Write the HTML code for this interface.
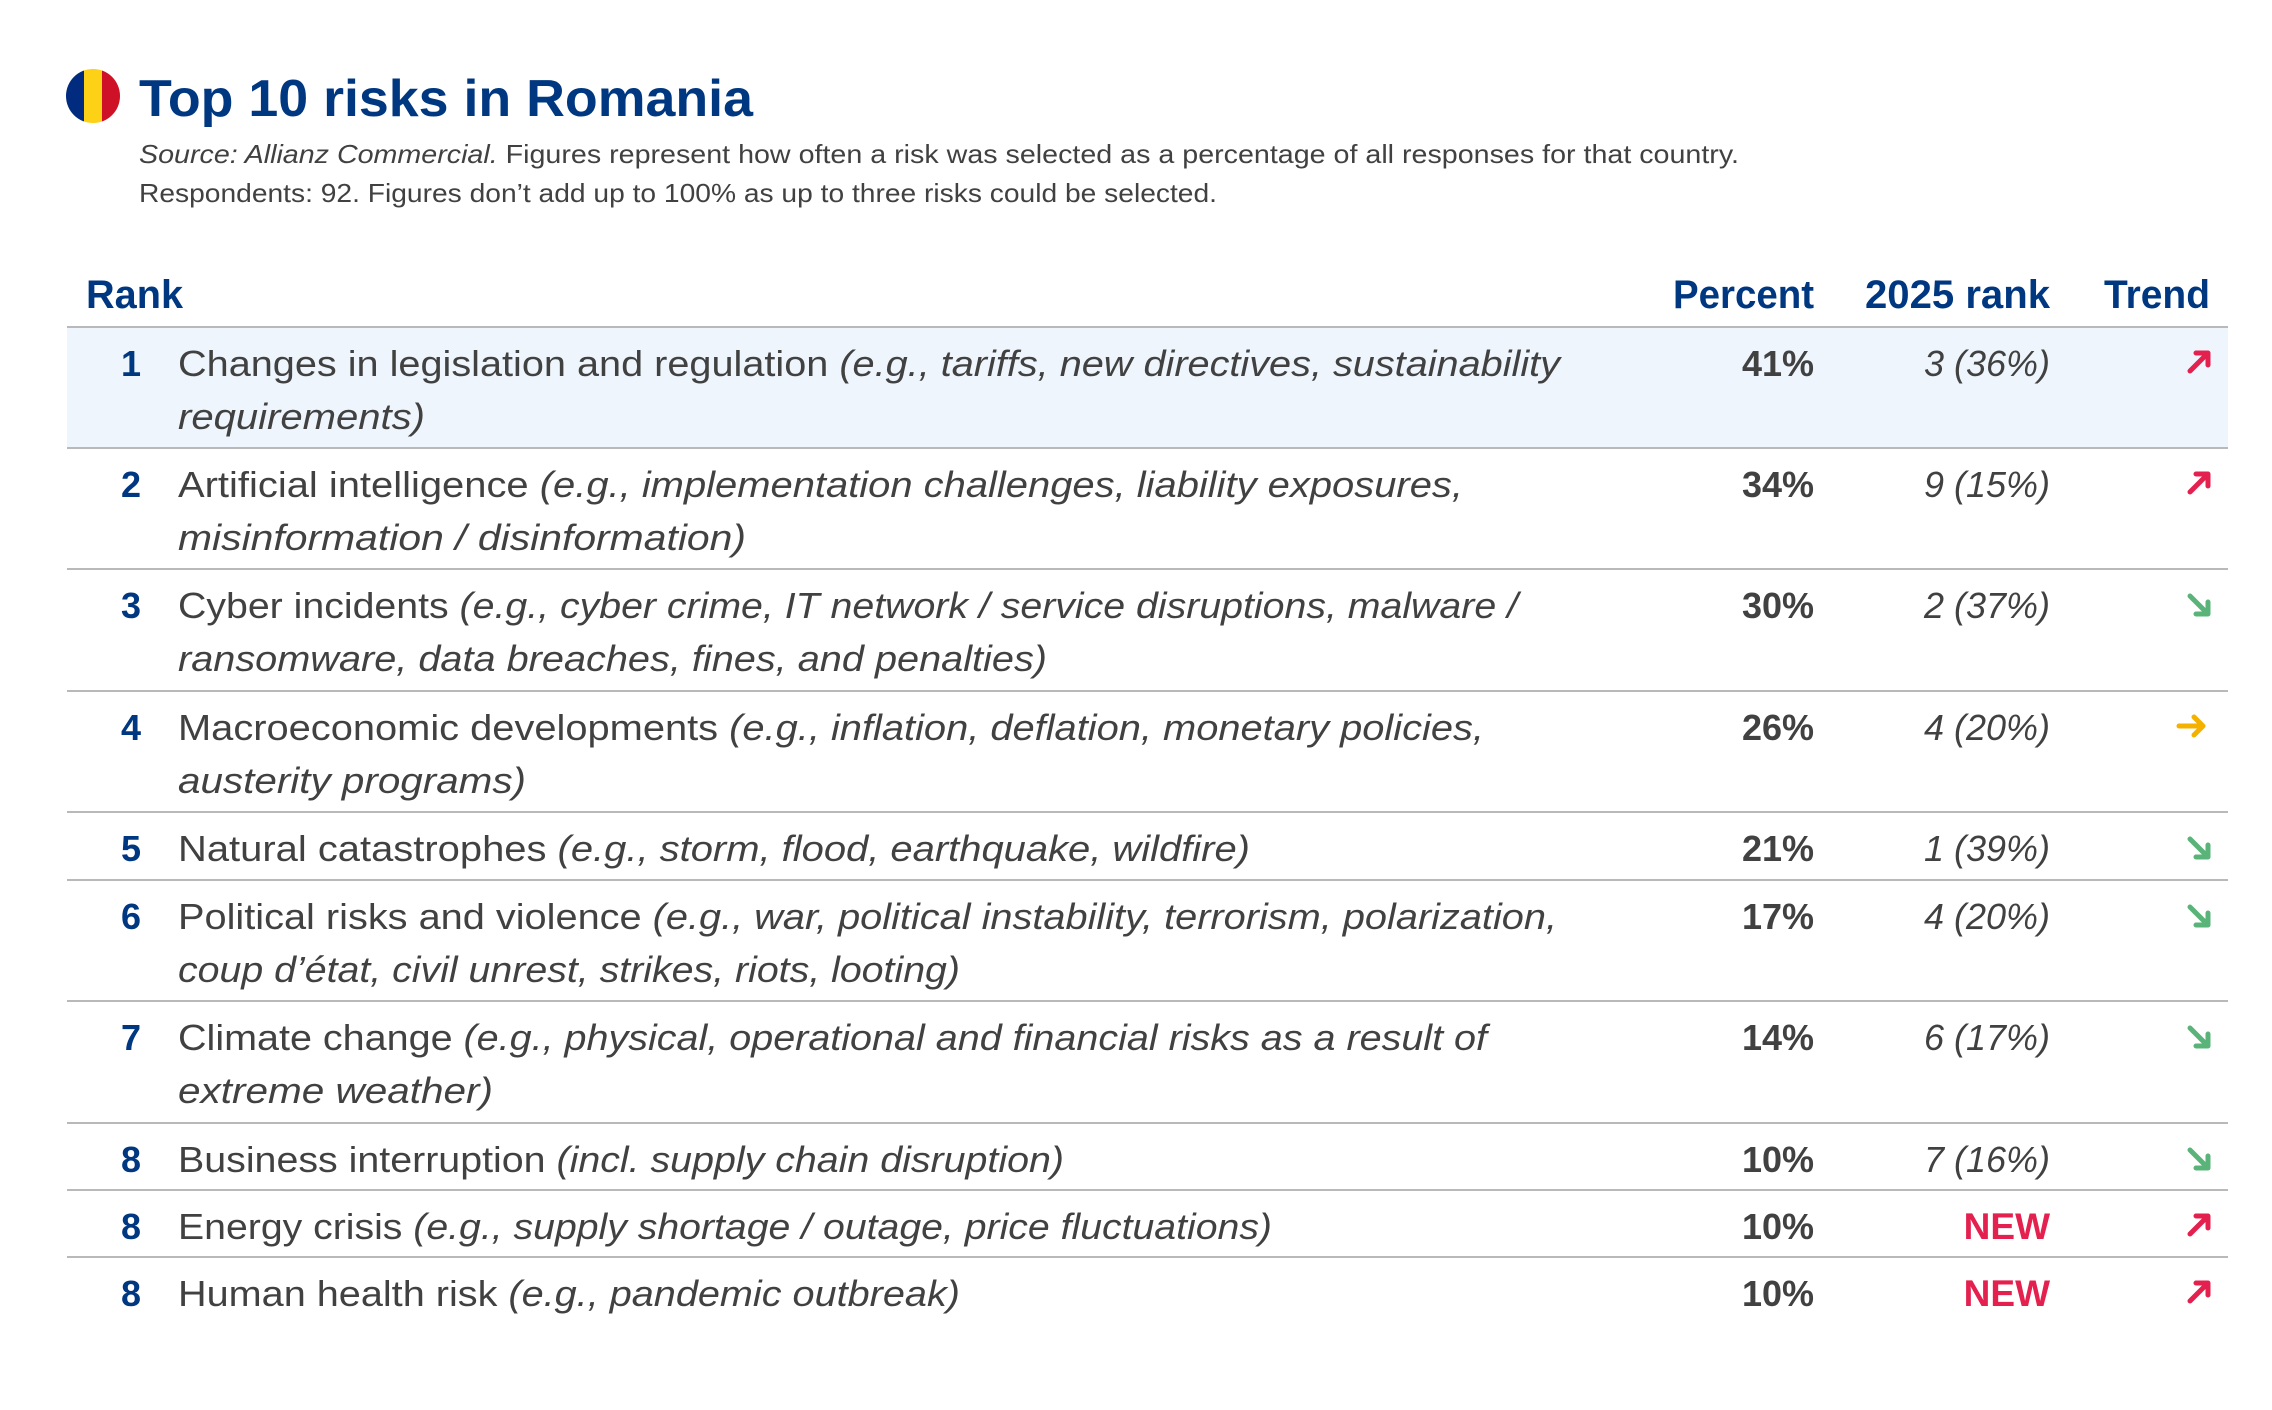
<!DOCTYPE html>
<html><head><meta charset="utf-8"><style>
html,body{margin:0;padding:0;background:#fff;}
svg{display:block;}
text{font-family:"Liberation Sans",sans-serif;}
.t{font-size:36px;fill:#414141;}
.i{font-style:italic;}
.n{font-size:36px;font-weight:bold;fill:#003781;}
.p{font-size:36px;font-weight:bold;fill:#414141;}
.r{font-size:36px;font-style:italic;fill:#414141;}
.h{font-size:40px;font-weight:bold;fill:#003781;}
.new{font-size:37px;font-weight:bold;fill:#e4204f;}
</style></head><body>
<svg width="2272" height="1410" viewBox="0 0 2272 1410" xmlns="http://www.w3.org/2000/svg">
<defs><clipPath id="fc"><circle cx="93" cy="96" r="27"/></clipPath></defs>
<g clip-path="url(#fc)">
<rect x="66" y="68" width="18" height="56" fill="#002b7f"/>
<rect x="84" y="68" width="18" height="56" fill="#fcd116"/>
<rect x="102" y="68" width="19" height="56" fill="#ce1126"/>
</g>
<text x="139" y="116" font-size="52" font-weight="bold" fill="#003781" textLength="614" lengthAdjust="spacingAndGlyphs">Top 10 risks in Romania</text>
<text x="139" y="163" font-size="26" fill="#414141" textLength="1600" lengthAdjust="spacingAndGlyphs"><tspan font-style="italic">Source: Allianz Commercial.</tspan> Figures represent how often a risk was selected as a percentage of all responses for that country.</text>
<text x="139" y="202" font-size="26" fill="#414141" textLength="1078" lengthAdjust="spacingAndGlyphs">Respondents: 92. Figures don’t add up to 100% as up to three risks could be selected.</text>

<text class="h" x="86" y="308" textLength="97" lengthAdjust="spacingAndGlyphs">Rank</text>
<text class="h" x="1673" y="308" textLength="141" lengthAdjust="spacingAndGlyphs">Percent</text>
<text class="h" x="1865" y="308" textLength="185" lengthAdjust="spacingAndGlyphs">2025 rank</text>
<text class="h" x="2104" y="308" textLength="106" lengthAdjust="spacingAndGlyphs">Trend</text>

<rect x="67" y="327" width="2161" height="121" fill="#eef5fc"/>
<g stroke="#b9b9b9" stroke-width="2">
<line x1="67" x2="2228" y1="327" y2="327"/>
<line x1="67" x2="2228" y1="448" y2="448"/>
<line x1="67" x2="2228" y1="569" y2="569"/>
<line x1="67" x2="2228" y1="691" y2="691"/>
<line x1="67" x2="2228" y1="812" y2="812"/>
<line x1="67" x2="2228" y1="880" y2="880"/>
<line x1="67" x2="2228" y1="1001" y2="1001"/>
<line x1="67" x2="2228" y1="1123" y2="1123"/>
<line x1="67" x2="2228" y1="1190" y2="1190"/>
<line x1="67" x2="2228" y1="1257" y2="1257"/>
</g>

<g>
<text class="n" x="141" y="376" text-anchor="end">1</text>
<text class="t" x="178" y="376" textLength="1382" lengthAdjust="spacingAndGlyphs">Changes in legislation and regulation <tspan class="i">(e.g., tariffs, new directives, sustainability</tspan></text>
<text class="t i" x="178" y="429" textLength="247" lengthAdjust="spacingAndGlyphs">requirements)</text>
<text class="p" x="1814" y="376" text-anchor="end">41%</text>
<text class="r" x="2050" y="376" text-anchor="end">3 (36%)</text>

<text class="n" x="141" y="497" text-anchor="end">2</text>
<text class="t" x="178" y="497" textLength="1285" lengthAdjust="spacingAndGlyphs">Artificial intelligence <tspan class="i">(e.g., implementation challenges, liability exposures,</tspan></text>
<text class="t i" x="178" y="550" textLength="568" lengthAdjust="spacingAndGlyphs">misinformation / disinformation)</text>
<text class="p" x="1814" y="497" text-anchor="end">34%</text>
<text class="r" x="2050" y="497" text-anchor="end">9 (15%)</text>

<text class="n" x="141" y="618" text-anchor="end">3</text>
<text class="t" x="178" y="618" textLength="1340" lengthAdjust="spacingAndGlyphs">Cyber incidents <tspan class="i">(e.g., cyber crime, IT network / service disruptions, malware /</tspan></text>
<text class="t i" x="178" y="671" textLength="869" lengthAdjust="spacingAndGlyphs">ransomware, data breaches, fines, and penalties)</text>
<text class="p" x="1814" y="618" text-anchor="end">30%</text>
<text class="r" x="2050" y="618" text-anchor="end">2 (37%)</text>

<text class="n" x="141" y="740" text-anchor="end">4</text>
<text class="t" x="178" y="740" textLength="1306" lengthAdjust="spacingAndGlyphs">Macroeconomic developments <tspan class="i">(e.g., inflation, deflation, monetary policies,</tspan></text>
<text class="t i" x="178" y="793" textLength="348" lengthAdjust="spacingAndGlyphs">austerity programs)</text>
<text class="p" x="1814" y="740" text-anchor="end">26%</text>
<text class="r" x="2050" y="740" text-anchor="end">4 (20%)</text>

<text class="n" x="141" y="861" text-anchor="end">5</text>
<text class="t" x="178" y="861" textLength="1072" lengthAdjust="spacingAndGlyphs">Natural catastrophes <tspan class="i">(e.g., storm, flood, earthquake, wildfire)</tspan></text>
<text class="p" x="1814" y="861" text-anchor="end">21%</text>
<text class="r" x="2050" y="861" text-anchor="end">1 (39%)</text>

<text class="n" x="141" y="929" text-anchor="end">6</text>
<text class="t" x="178" y="929" textLength="1379" lengthAdjust="spacingAndGlyphs">Political risks and violence <tspan class="i">(e.g., war, political instability, terrorism, polarization,</tspan></text>
<text class="t i" x="178" y="982" textLength="782" lengthAdjust="spacingAndGlyphs">coup d’état, civil unrest, strikes, riots, looting)</text>
<text class="p" x="1814" y="929" text-anchor="end">17%</text>
<text class="r" x="2050" y="929" text-anchor="end">4 (20%)</text>

<text class="n" x="141" y="1050" text-anchor="end">7</text>
<text class="t" x="178" y="1050" textLength="1309" lengthAdjust="spacingAndGlyphs">Climate change <tspan class="i">(e.g., physical, operational and financial risks as a result of</tspan></text>
<text class="t i" x="178" y="1103" textLength="315" lengthAdjust="spacingAndGlyphs">extreme weather)</text>
<text class="p" x="1814" y="1050" text-anchor="end">14%</text>
<text class="r" x="2050" y="1050" text-anchor="end">6 (17%)</text>

<text class="n" x="141" y="1172" text-anchor="end">8</text>
<text class="t" x="178" y="1172" textLength="886" lengthAdjust="spacingAndGlyphs">Business interruption <tspan class="i">(incl. supply chain disruption)</tspan></text>
<text class="p" x="1814" y="1172" text-anchor="end">10%</text>
<text class="r" x="2050" y="1172" text-anchor="end">7 (16%)</text>

<text class="n" x="141" y="1239" text-anchor="end">8</text>
<text class="t" x="178" y="1239" textLength="1094" lengthAdjust="spacingAndGlyphs">Energy crisis <tspan class="i">(e.g., supply shortage / outage, price fluctuations)</tspan></text>
<text class="p" x="1814" y="1239" text-anchor="end">10%</text>
<text class="new" x="2050" y="1239" text-anchor="end">NEW</text>

<text class="n" x="141" y="1306" text-anchor="end">8</text>
<text class="t" x="178" y="1306" textLength="782" lengthAdjust="spacingAndGlyphs">Human health risk <tspan class="i">(e.g., pandemic outbreak)</tspan></text>
<text class="p" x="1814" y="1306" text-anchor="end">10%</text>
<text class="new" x="2050" y="1306" text-anchor="end">NEW</text>
</g>

<g fill="none" stroke-width="5" stroke-linecap="round" stroke-linejoin="round" transform="translate(-3,0)">
<g stroke="#e4204f">
<path d="M2193 371 L2211 353 M2199 353 H2211 V365"/>
<path d="M2193 492 L2211 474 M2199 474 H2211 V486"/>
<path d="M2193 1234 L2211 1216 M2199 1216 H2211 V1228"/>
<path d="M2193 1301 L2211 1283 M2199 1283 H2211 V1295"/>
</g>
<g stroke="#5ab47a">
<path d="M2193 596 L2211 614 M2211 602 V614 H2199"/>
<path d="M2193 839 L2211 857 M2211 845 V857 H2199"/>
<path d="M2193 907 L2211 925 M2211 913 V925 H2199"/>
<path d="M2193 1028 L2211 1046 M2211 1034 V1046 H2199"/>
<path d="M2193 1150 L2211 1168 M2211 1156 V1168 H2199"/>
</g>
<path stroke="#f5b100" d="M2182 726 H2206 M2197 717 L2206 726 L2197 735"/>
</g>
</svg>
</body></html>
